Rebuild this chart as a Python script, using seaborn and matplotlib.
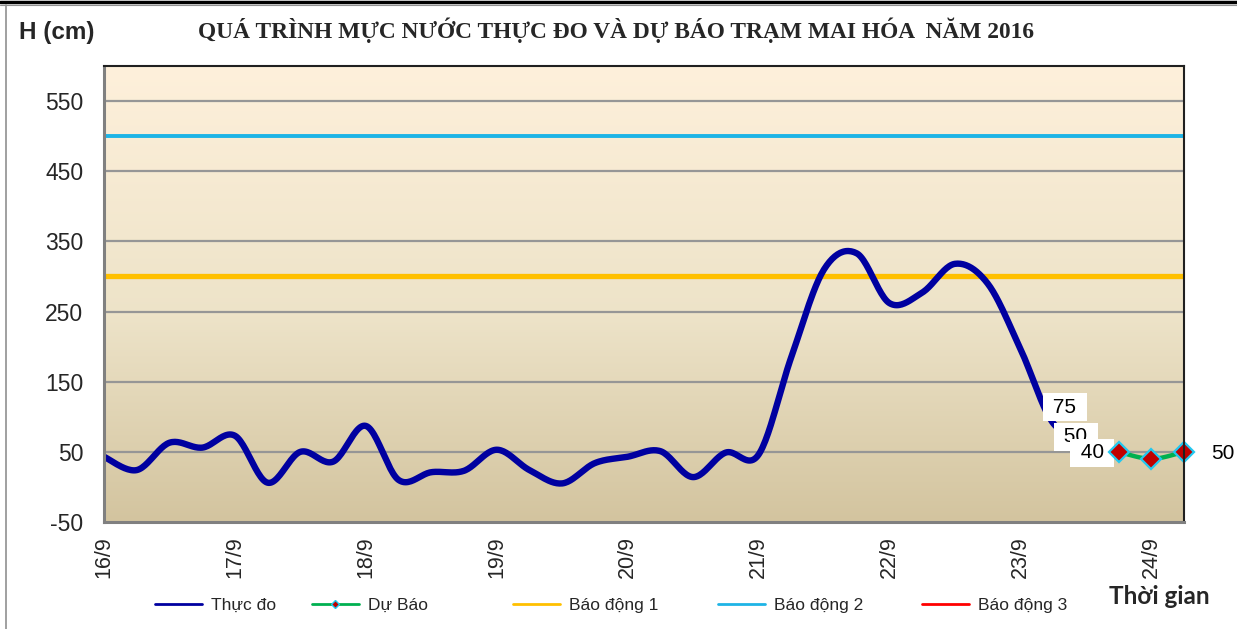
import numpy as np
import matplotlib
matplotlib.use("Agg")
import matplotlib.pyplot as plt
import seaborn as sns
from matplotlib.lines import Line2D
from matplotlib.colors import LinearSegmentedColormap

# ---------------- data ----------------
date_labels = ["16/9", "17/9", "18/9", "19/9", "20/9", "21/9", "22/9", "23/9", "24/9"]
steps_per_day = 4  # 6-hourly observations
observed = [43, 24, 63, 56, 73, 6, 50, 36, 87, 10, 21, 23, 53, 24, 5, 34,
            43, 51, 14, 49, 46, 185, 310, 333, 262, 277, 318, 290, 197, 91, 75]
forecast_start = 31
forecast = [50, 40, 50]
alarm1 = 300
alarm2 = 500
alarm3 = 700
series_names = ["Thực đo", "Dự Báo", "Báo động 1", "Báo động 2", "Báo động 3"]
y_ticks = [-50, 50, 150, 250, 350, 450, 550]
title = "QUÁ TRÌNH MỰC NƯỚC THỰC ĐO VÀ DỰ BÁO TRẠM MAI HÓA  NĂM 2016"
y_title = "H (cm)"
x_title = "Thời gian"

# ---------------- style ----------------
sns.set_style("white")
plt.rcParams["font.family"] = ["Liberation Sans", "DejaVu Sans"]

C_OBS = "#0000A0"
C_FC = "#00B050"
C_A1 = "#FFC000"
C_A2 = "#1EB4E6"
C_A3 = "#FF0000"


def catmull(x, y, n=24):
    x = np.asarray(x, float)
    y = np.asarray(y, float)
    P = np.column_stack([x, y])
    out = []
    m = len(P)
    for i in range(m - 1):
        p0 = P[max(i - 1, 0)]
        p1 = P[i]
        p2 = P[i + 1]
        p3 = P[min(i + 2, m - 1)]
        t = np.linspace(0, 1, n, endpoint=False)[:, None]
        seg = 0.5 * ((2 * p1) + (-p0 + p2) * t + (2 * p0 - 5 * p1 + 4 * p2 - p3) * t ** 2
                     + (-p0 + 3 * p1 - 3 * p2 + p3) * t ** 3)
        out.append(seg)
    out.append(P[-1:])
    S = np.vstack(out)
    return S[:, 0], S[:, 1]


W, H = 1237, 629
fig = plt.figure(figsize=(W / 100, H / 100), dpi=100)
ax = fig.add_axes([104 / W, 1 - 522 / H, (1184 - 104) / W, (522 - 66) / H])

n_days = len(date_labels)
x_max = (n_days - 1) * steps_per_day + 1
y_min, y_max = -50, 600

# background gradient
cmap = LinearSegmentedColormap.from_list(
    "bg", [(0.0, "#D3C49F"), (0.45, "#EDE3C8"), (1.0, "#FEF0DB")])
grad = np.linspace(0, 1, 256)[:, None]
ax.imshow(grad, extent=[0, x_max, y_min, y_max], origin="lower", aspect="auto",
          cmap=cmap, zorder=0, interpolation="bilinear")

# grid
for yt in y_ticks[1:]:
    ax.axhline(yt, color="#969696", lw=1.6, zorder=1)

# alarm lines
ax.axhline(alarm1, color=C_A1, lw=3.8, zorder=2)
ax.axhline(alarm2, color=C_A2, lw=2.8, zorder=2)
ax.axhline(alarm3, color=C_A3, lw=2.8, zorder=2)

# observed
xo = np.arange(len(observed))
sx, sy = catmull(xo, observed)
sns.lineplot(x=sx, y=sy, ax=ax, color=C_OBS, lw=4.6, sort=False, estimator=None, zorder=3)

# forecast
xf = np.arange(forecast_start, forecast_start + len(forecast))
fx, fy = catmull(xf, forecast)
sns.lineplot(x=fx, y=fy, ax=ax, color=C_FC, lw=3.2, sort=False, estimator=None, zorder=6)
ax.plot(xf, forecast, ls="none", marker="D", ms=10, mfc="#C00000", mec="#22C8F0",
        mew=1.6, zorder=7, clip_on=False)

# data labels
lab_font = dict(fontsize=15, color="black", ha="center", va="center")
box = dict(boxstyle="square,pad=0.22", fc="white", ec="none")
ax.annotate(" %d " % observed[-1], (xo[-1], observed[-1]), xytext=(-21, 27),
            textcoords="offset pixels", bbox=box, zorder=4, annotation_clip=False, **lab_font)
offs = [(-43, 15), (-59, 6), (39, -2)]
for i, (xv, yv) in enumerate(zip(xf, forecast)):
    txt = (" %d " % yv) if i < 2 else ("%d" % yv)
    ax.annotate(txt, (xv, yv), xytext=offs[i], textcoords="offset pixels",
                bbox=box if i < 2 else None, zorder=5, annotation_clip=False, **lab_font)

ax.set_xlim(0, x_max)
ax.set_ylim(y_min, y_max)
ax.set_xlabel("")
ax.set_ylabel("")

# ticks
ax.set_yticks(y_ticks)
ax.set_yticklabels([str(v) for v in y_ticks], fontsize=16.5)
ax.tick_params(axis="y", direction="out", length=7, width=1.5, color="#808080", pad=8)
major_x = np.arange(0, n_days * steps_per_day, steps_per_day)
ax.set_xticks(major_x)
ax.set_xticklabels(date_labels, rotation=90, fontsize=15.5)
ax.set_xticks(np.arange(0, x_max + 1), minor=True)
ax.tick_params(axis="x", which="both", direction="in", length=5, width=1.5,
               color="#808080", pad=10)

for s in ["left", "bottom"]:
    ax.spines[s].set_color("#808080")
    ax.spines[s].set_linewidth(2.2)
for s in ["top", "right"]:
    ax.spines[s].set_color("#202020")
    ax.spines[s].set_linewidth(1.5)
for s in ax.spines.values():
    s.set_zorder(8)

# titles
fig.text(616 / W, 1 - 30 / H, title, ha="center", va="center", fontsize=16.8,
         fontweight="bold", family=["Liberation Serif", "DejaVu Serif"])
fig.text(57 / W, 1 - 33 / H, y_title, ha="center", va="center", fontsize=17.5,
         fontweight="bold")
fig.text(1159 / W, 1 - 597 / H, x_title, ha="center", va="center", fontsize=17.5,
         fontweight="bold", family=["Lato", "DejaVu Sans"])

# legend: one entry per series, placed like the reference
handles = [
    Line2D([], [], color=C_OBS, lw=2),
    Line2D([], [], color=C_FC, lw=2, marker="D", ms=4, mfc="#C00000", mec="#22C8F0"),
    Line2D([], [], color=C_A1, lw=2),
    Line2D([], [], color=C_A2, lw=2),
    Line2D([], [], color=C_A3, lw=2),
]
leg_x = [155, 312, 513, 718, 922]
for h, name, lx in zip(handles, series_names, leg_x):
    lg = fig.legend([h], [name], loc="center left", bbox_to_anchor=(lx / W, 1 - 605 / H),
                    frameon=False, fontsize=12.5, handlelength=2.7, handletextpad=0.5,
                    borderpad=0, borderaxespad=0)

# outer frame
fig.add_artist(Line2D([0, 1], [1 - 1.5 / H, 1 - 1.5 / H], color="black", lw=2.5,
                      transform=fig.transFigure))
fig.add_artist(Line2D([0, 1], [1 - 5 / H, 1 - 5 / H], color="#909090", lw=0.8,
                      transform=fig.transFigure))
fig.add_artist(Line2D([6 / W, 6 / W], [0, 1 - 5 / H], color="#909090", lw=1.2,
                      transform=fig.transFigure))

fig.savefig("out.png", dpi=100)
